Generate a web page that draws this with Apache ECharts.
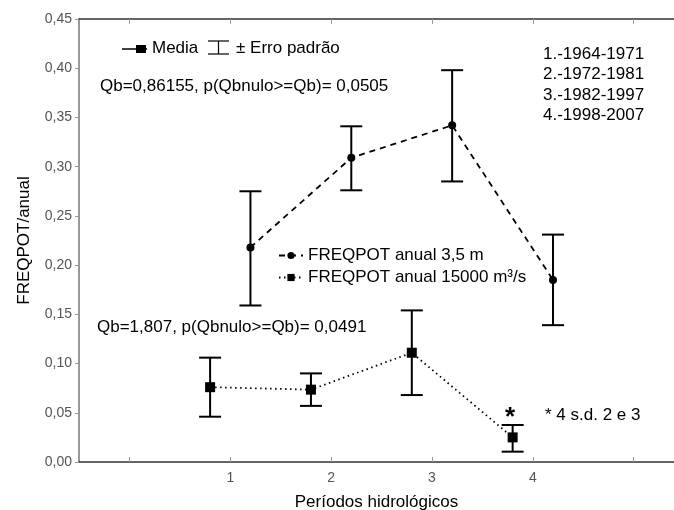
<!DOCTYPE html>
<html><head><meta charset="utf-8">
<script src="https://cdn.jsdelivr.net/npm/echarts@6/dist/echarts.min.js"></script>
<style>html,body{margin:0;padding:0;background:#fff}#c{width:674px;height:510px}</style>
</head><body><div id="c"></div>
<script>
// Data
const periodLabels = [1, 2, 3, 4];
const xTicks = [0, 1, 2, 3, 4, 5];
const xPos1 = [1.2, 2.2, 3.2, 4.2];
const mean1 = [0.218, 0.309, 0.342, 0.185];
const hi1 = [0.275, 0.341, 0.398, 0.231];
const lo1 = [0.159, 0.276, 0.285, 0.139];
const xPos2 = [0.8, 1.8, 2.8, 3.8];
const mean2 = [0.076, 0.0735, 0.111, 0.025];
const hi2 = [0.106, 0.090, 0.154, 0.0376];
const lo2 = [0.046, 0.057, 0.068, 0.0105];
const name1 = 'FREQPOT anual 3,5 m';
const name2 = 'FREQPOT anual 15000 m³/s';
const years = ['1.-1964-1971', '2.-1972-1981', '3.-1982-1997', '4.-1998-2007'];

const FONT = '"Liberation Sans", Arial, sans-serif';
const chart = echarts.init(document.getElementById('c'), null, {renderer: 'canvas'});

function errRender(params, api) {
  const x = api.value(0), lo = api.value(1), hi = api.value(2);
  const pH = api.coord([x, hi]), pL = api.coord([x, lo]);
  const hw = 11;
  const st = {stroke: '#000', lineWidth: 2};
  return {type: 'group', children: [
    {type: 'line', shape: {x1: pH[0], y1: pH[1], x2: pL[0], y2: pL[1]}, style: st},
    {type: 'line', shape: {x1: pH[0] - hw, y1: pH[1], x2: pH[0] + hw, y2: pH[1]}, style: st},
    {type: 'line', shape: {x1: pL[0] - hw, y1: pL[1], x2: pL[0] + hw, y2: pL[1]}, style: st}
  ]};
}

const txt = (x, y, t, size, extra) => Object.assign({type: 'text', left: x, top: y,
  style: {text: t, font: `${size}px ${FONT}`, fill: '#000'}}, extra || {});

const graphics = [
  // Media legend
  {type: 'line', shape: {x1: 122, y1: 49, x2: 147, y2: 49}, style: {stroke: '#000', lineWidth: 1.5}},
  {type: 'rect', shape: {x: 136, y: 45, width: 10, height: 8}, style: {fill: '#000'}},
  txt(152, 40, 'Media', 17),
  // error legend icon
  {type: 'line', shape: {x1: 208, y1: 41, x2: 229, y2: 41}, style: {stroke: '#000', lineWidth: 1.2}},
  {type: 'line', shape: {x1: 218.5, y1: 41, x2: 218.5, y2: 54}, style: {stroke: '#000', lineWidth: 1.2}},
  {type: 'line', shape: {x1: 208, y1: 54, x2: 229, y2: 54}, style: {stroke: '#000', lineWidth: 1.2}},
  txt(236, 40, '± Erro padrão', 17),
  txt(100, 78, 'Qb=0,86155, p(Qbnulo>=Qb)= 0,0505', 17),
  txt(97, 319, 'Qb=1,807, p(Qbnulo>=Qb)= 0,0491', 17),
  txt(545, 407, '* 4 s.d. 2 e 3', 17),
  txt(505, 405, '*', 26, {style: {text: '*', font: `bold 26px ${FONT}`, fill: '#000'}})
];
years.forEach((y, i) => graphics.push(txt(543, 46 + i * 20.3, y, 17)));

chart.setOption({
  animation: false,
  textStyle: {fontFamily: FONT},
  grid: {left: 79, right: 0, top: 19, bottom: 48, show: false, containLabel: false, outerBoundsMode: 'none'},
  legend: {
    orient: 'vertical', left: 278, top: 247, itemGap: 5, padding: 0,
    itemWidth: 24, itemHeight: 9,
    textStyle: {fontSize: 17, color: '#000', fontFamily: FONT},
    data: [name1, name2]
  },
  xAxis: [{
    type: 'value', min: -0.5, max: 5.4, position: 'bottom',
    name: 'Períodos hidrológicos', nameLocation: 'middle', nameGap: 32,
    nameTextStyle: {fontSize: 17, color: '#000', fontFamily: FONT},
    axisLine: {onZero: false, lineStyle: {color: '#333', width: 1.5}},
    axisTick: {inside: true, length: 5, customValues: xTicks, lineStyle: {color: '#999'}},
    axisLabel: {customValues: periodLabels, color: '#555', fontSize: 14, margin: 9, formatter: v => String(v)},
    splitLine: {show: false}
  }, {
    type: 'value', min: -0.5, max: 5.4, position: 'top',
    axisLine: {onZero: false, lineStyle: {color: '#333', width: 1.5}},
    axisTick: {inside: true, length: 5, customValues: xTicks, lineStyle: {color: '#999'}},
    axisLabel: {show: false}, splitLine: {show: false}
  }],
  yAxis: {
    type: 'value', min: 0, max: 0.45, interval: 0.05,
    name: 'FREQPOT/anual', nameLocation: 'middle', nameGap: 46,
    nameTextStyle: {fontSize: 17, color: '#000', fontFamily: FONT},
    axisLine: {show: true, onZero: false, lineStyle: {color: '#999', width: 2}},
    axisTick: {show: true, length: 4, lineStyle: {color: '#999'}},
    axisLabel: {color: '#555', fontSize: 14, margin: 7, formatter: v => v.toFixed(2).replace('.', ',')},
    splitLine: {show: false}
  },
  series: [
    {type: 'custom', name: 'err1', renderItem: errRender, z: 3,
     data: xPos1.map((x, i) => [x, lo1[i], hi1[i]])},
    {type: 'custom', name: 'err2', renderItem: errRender, z: 3,
     data: xPos2.map((x, i) => [x, lo2[i], hi2[i]])},
    {type: 'line', name: name1, z: 4, symbol: 'circle', symbolSize: 8,
     itemStyle: {color: '#000'}, lineStyle: {color: '#000', width: 1.8, type: [6, 5]},
     data: xPos1.map((x, i) => [x, mean1[i]])},
    {type: 'line', name: name2, z: 4, symbol: 'rect', symbolSize: 10,
     itemStyle: {color: '#000'}, lineStyle: {color: '#000', width: 1.8, type: [1.5, 3.5]},
     data: xPos2.map((x, i) => [x, mean2[i]])}
  ],
  graphic: graphics
});
</script></body></html>
